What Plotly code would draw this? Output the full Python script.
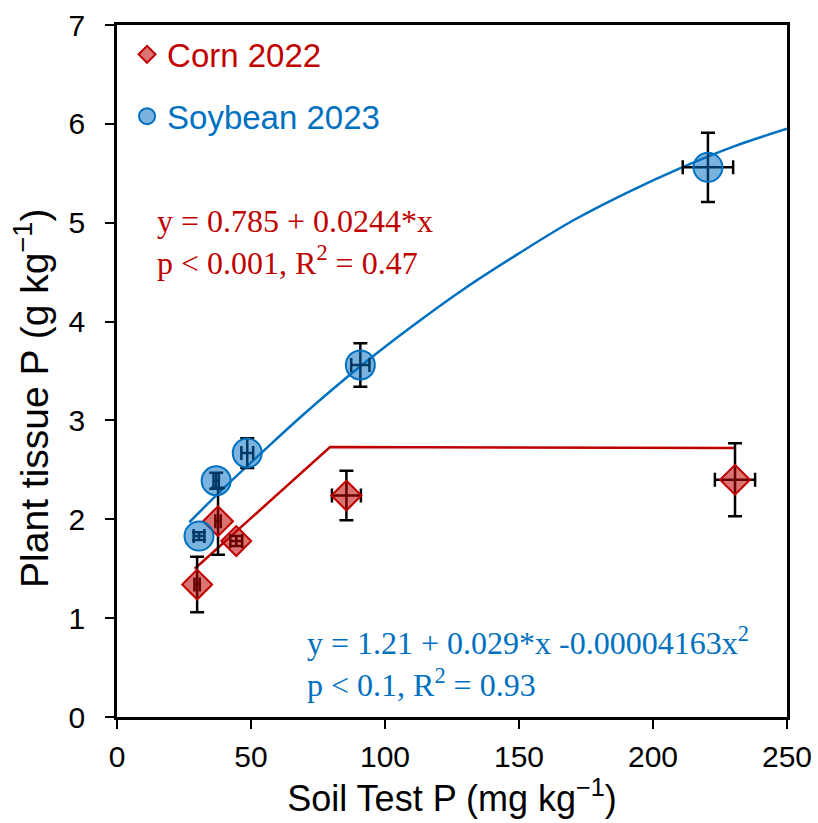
import plotly.graph_objects as go

# ---- data ----
corn_x = [29.9, 37.7, 44.5, 85.6, 230.6]
corn_y = [1.34, 1.98, 1.78, 2.24, 2.40]
corn_yerr = [0.28, 0.34, 0.05, 0.25, 0.37]
corn_xerr = [1.0, 1.0, 2.2, 5.4, 7.5]

soy_x = [30.6, 37.0, 48.6, 90.8, 220.5]
soy_y = [1.83, 2.39, 2.67, 3.56, 5.56]
soy_yerr = [0.04, 0.08, 0.15, 0.22, 0.35]
soy_xerr = [2.0, 1.0, 2.2, 3.4, 9.4]

# fitted lines
corn_fit_x = [29.0, 79.5, 230.6]
corn_fit_y = [1.50, 2.73, 2.72]

soy_fit_x = [27, 40, 55, 70, 90, 110, 130, 150, 170, 190, 210, 230, 250]
soy_fit_y = [1.97, 2.32, 2.70, 3.07, 3.53, 3.95, 4.34, 4.69, 5.02, 5.30, 5.55, 5.77, 5.95]

RED = "#C00000"
BLUE = "#0070C0"
RED_FILL = "rgba(192,0,0,0.55)"
BLUE_FILL = "rgba(0,112,192,0.52)"

fig = go.Figure()

# fit lines
fig.add_trace(go.Scatter(x=corn_fit_x, y=corn_fit_y, mode="lines",
                         line=dict(color=RED, width=2.5), showlegend=False, hoverinfo="skip"))
fig.add_trace(go.Scatter(x=soy_fit_x, y=soy_fit_y, mode="lines", line_shape="spline",
                         line=dict(color=BLUE, width=2.5), showlegend=False, hoverinfo="skip"))

err_style = dict(color="black", thickness=2.5, width=7)

fig.add_trace(go.Scatter(
    x=corn_x, y=corn_y, mode="markers", showlegend=False,
    marker=dict(symbol="diamond", size=23, color=RED_FILL, line=dict(color=RED, width=2)),
    error_y=dict(type="data", array=corn_yerr, visible=True, **err_style),
    error_x=dict(type="data", array=corn_xerr, visible=True, **err_style),
))
fig.add_trace(go.Scatter(
    x=soy_x, y=soy_y, mode="markers", showlegend=False,
    marker=dict(symbol="circle", size=29, color=BLUE_FILL, line=dict(color=BLUE, width=2)),
    error_y=dict(type="data", array=soy_yerr, visible=True, **err_style),
    error_x=dict(type="data", array=soy_xerr, visible=True, **err_style),
))

# legend entries
fig.add_trace(go.Scatter(x=[None], y=[None], mode="markers", legendgroup="a",
                         name=f"<span style='color:{RED}'>Corn 2022</span>",
                         marker=dict(symbol="diamond", size=13, color=RED_FILL, line=dict(color=RED, width=2))))
fig.add_trace(go.Scatter(x=[None], y=[None], mode="markers", legendgroup="b",
                         name=f"<span style='color:{BLUE}'>Soybean 2023</span>",
                         marker=dict(symbol="circle", size=16, color=BLUE_FILL, line=dict(color=BLUE, width=2))))

SERIF = "Liberation Serif, Times New Roman, serif"
ann = [
    dict(text="y = 0.785 + 0.0244*x<br>p < 0.001, R<sup>2</sup> = 0.47", x=0.056, y=0.687, color=RED),
    dict(text="y = 1.21 + 0.029*x -0.00004163x<sup>2</sup><br>p < 0.1, R<sup>2</sup> = 0.93",
         x=0.281, y=0.079, color=BLUE),
]
for a in ann:
    fig.add_annotation(text=a["text"], x=a["x"], y=a["y"], xref="paper", yref="paper",
                       xanchor="left", yanchor="middle", align="left", showarrow=False,
                       font=dict(family=SERIF, size=32, color=a["color"]))

SANS = "Liberation Sans, Arial, sans-serif"
# y-axis title as a rotated text
fig.add_annotation(text="Plant tissue P (g kg<sup>−1</sup>)", x=-0.128, y=0.46,
                   xref="paper", yref="paper", xanchor="center", yanchor="middle",
                   textangle=-90, showarrow=False,
                   font=dict(family=SANS, size=39, color="black"))

axis_common = dict(showline=True, linecolor="black", linewidth=2.5, mirror=True,
                   ticks="outside", ticklen=9, tickwidth=2, tickcolor="black",
                   showgrid=False, zeroline=False, automargin=False,
                   tickfont=dict(family=SANS, size=30, color="black"))

fig.update_xaxes(range=[0, 250], dtick=50, tick0=0, ticklabelstandoff=2,
                 title=dict(text="Soil Test P (mg kg<sup>−1</sup>)",
                            font=dict(family=SANS, size=36, color="black"), standoff=10),
                 **axis_common)
fig.update_yaxes(range=[0, 7], dtick=1, tick0=0, ticklabelstandoff=14,
                 **axis_common)

fig.update_layout(
    width=818, height=823,
    margin=dict(l=117, r=31, t=25, b=106),
    paper_bgcolor="white", plot_bgcolor="white",
    legend=dict(x=0.015, y=0.998, xanchor="left", yanchor="top",
                font=dict(family=SANS, size=33), tracegroupgap=16,
                bgcolor="rgba(0,0,0,0)", itemwidth=30),
)

fig.write_html("out.html")
